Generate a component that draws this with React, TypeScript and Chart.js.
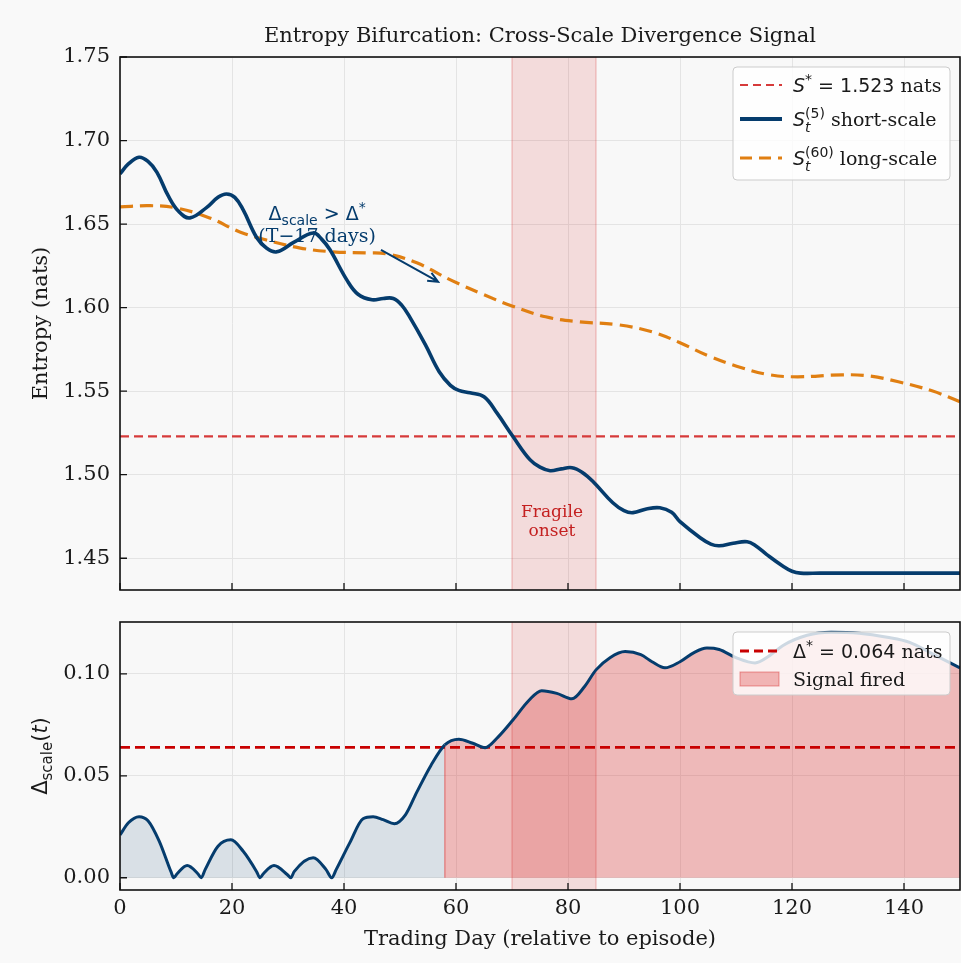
import React, { useEffect, useRef } from "react";
import { Chart, registerables } from "chart.js";

Chart.register(...registerables);

// ---- data ---------------------------------------------------------------

const DAYS_SHORT = [
  0, 1.5, 3.4, 5, 6.6, 8.6, 10.5, 12.5, 15.5, 17.5, 19, 20.5, 22, 24.4, 26.2, 28, 31, 34.5, 36,
  37.5, 40.5, 42.5, 45, 47, 48.8, 50.3, 51.8, 54.5, 57, 59, 60.5, 62.5, 65, 67.3, 70.2, 73.2, 75,
  76.8, 78.8, 80.7, 82.5, 84.5, 88, 90, 91.6, 94, 96.4, 98.5, 100, 103.6, 105.5, 107, 109.5, 112,
  113.5, 115.5, 118.4, 120, 121.5, 125, 132, 141, 150,
];
const S_SHORT = [
  1.68, 1.686, 1.69, 1.6875, 1.681, 1.667, 1.6575, 1.6537, 1.66, 1.666, 1.668, 1.666, 1.6585, 1.642,
  1.6355, 1.6334, 1.639, 1.6447, 1.641, 1.6346, 1.6166, 1.608, 1.6047, 1.6055, 1.6055, 1.6015,
  1.594, 1.578, 1.5616, 1.5535, 1.5505, 1.549, 1.5467, 1.537, 1.5227, 1.509, 1.5045, 1.5024,
  1.5035, 1.5042, 1.5015, 1.4958, 1.4832, 1.4785, 1.4773, 1.4795, 1.4802, 1.4775, 1.4719, 1.4623,
  1.4585, 1.4575, 1.459, 1.4599, 1.4575, 1.4522, 1.4452, 1.4422, 1.4411, 1.4411, 1.4411, 1.4411,
  1.4411,
];

const DAYS_LONG = [
  0, 5.4, 10, 16, 21.4, 26, 32, 38, 44, 47.6, 53, 59, 65, 70, 76, 82, 89, 95, 100, 105, 111, 116,
  121, 129, 134, 139, 145, 150,
];
const S_LONG = [
  1.6603, 1.661, 1.6597, 1.6537, 1.6453, 1.6406, 1.6358, 1.6334, 1.6328, 1.6322, 1.6268, 1.6166,
  1.6077, 1.601, 1.5945, 1.5915, 1.5897, 1.5855, 1.579, 1.5712, 1.564, 1.5598, 1.5586, 1.5598,
  1.559, 1.5556, 1.5502, 1.5437,
];

const DAYS_DELTA = [
  0, 1.5, 3.4, 5, 7, 9.1, 9.6, 10.2, 12, 13.9, 14.5, 15.2, 17.5, 19.8, 22, 24.4, 25, 25.6, 27.5,
  29.9, 30.5, 31.1, 34.5, 36.8, 37.8, 38.6, 41, 43.4, 45.2, 47, 49, 51, 53, 55.5, 58, 60.5, 63,
  65.2, 67.5, 70.2, 73, 75.3, 78, 80.7, 83, 85, 87.5, 90.2, 93, 95, 97.3, 100, 102.5, 104.8, 107,
  110, 113.4, 116, 118.4, 122.7, 127, 132, 137, 141, 145, 150,
];
const DELTA = [
  0.021, 0.027, 0.03, 0.028, 0.018, 0.003, 0, 0.002, 0.006, 0.002, 0, 0.004, 0.0155, 0.0186, 0.013,
  0.003, 0, 0.002, 0.006, 0.0015, 0, 0.003, 0.0098, 0.004, 0, 0.004, 0.017, 0.029, 0.03, 0.0285,
  0.0265, 0.031, 0.042, 0.055, 0.0652, 0.068, 0.066, 0.0638, 0.069, 0.0775, 0.087, 0.0918, 0.0905,
  0.0878, 0.094, 0.102, 0.108, 0.111, 0.1095, 0.106, 0.103, 0.106, 0.1105, 0.1127, 0.112, 0.108,
  0.1054, 0.109, 0.114, 0.119, 0.1205, 0.12, 0.118, 0.1155, 0.11, 0.103,
];

const S_STAR = 1.523;
const DELTA_STAR = 0.064;
const FIRE_DAY = 58;
const FRAGILE_START = 70;
const FRAGILE_END = 85;

const X_TICKS = [0, 20, 40, 60, 80, 100, 120, 140];
const TOP_Y_TICKS = [1.45, 1.5, 1.55, 1.6, 1.65, 1.7, 1.75];
const BOT_Y_TICKS = [0, 0.05, 0.1];

// ---- style --------------------------------------------------------------

const BG = "#f9f9f9";
const PLOT_BG = "#f8f8f8";
const GRID = "#e4e4e4";
const TXT = "#1a1a1a";
const NAVY = "#053c6d";
const ORANGE = "#e07f12";
const RED_REF = "#d63a3a";
const RED_DARK = "#c80000";
const BAND = "rgba(214, 39, 40, 0.14)";
const BAND_EDGE = "rgba(214, 39, 40, 0.22)";
const PRE_FILL = "rgba(5, 60, 109, 0.13)";
const FIRED_FILL = "rgba(214, 39, 40, 0.3)";
const FIRED_EDGE = "rgba(214, 39, 40, 0.45)";
const FRAGILE_TXT = "#c42020";

const SERIF = '"DejaVu Serif", serif';
const SANS = '"DejaVu Sans", sans-serif';
const fs = (size: number, fam: string, style = "") => `${style} ${size}px ${fam}`.trim();

const LABEL_SIZE = 21;
const LEGEND_SIZE = 19;

const pts = (xs: number[], ys: number[]) => xs.map((x, i) => ({ x, y: ys[i] }));
const flat = (v: number) => [
  { x: 0, y: v },
  { x: 150, y: v },
];

// ---- text helpers ---------------------------------------------------------

type Run = { t: string; font: string; dy?: number; keep?: boolean };

function runsWidth(ctx: CanvasRenderingContext2D, runs: Run[]) {
  let w = 0;
  let held = 0;
  for (const r of runs) {
    ctx.font = r.font;
    const m = ctx.measureText(r.t).width;
    if (r.keep) held = Math.max(held, m);
    else {
      w += Math.max(m, held);
      held = 0;
    }
  }
  return w + held;
}

function drawRuns(
  ctx: CanvasRenderingContext2D,
  runs: Run[],
  x: number,
  y: number,
  align: "left" | "center" = "left"
) {
  let cx = align === "center" ? x - runsWidth(ctx, runs) / 2 : x;
  let held = 0;
  ctx.textAlign = "left";
  ctx.textBaseline = "alphabetic";
  for (const r of runs) {
    ctx.font = r.font;
    ctx.fillText(r.t, cx, y + (r.dy ?? 0));
    const m = ctx.measureText(r.t).width;
    if (r.keep) held = Math.max(held, m);
    else {
      cx += Math.max(m, held);
      held = 0;
    }
  }
}

function drawRotated(ctx: CanvasRenderingContext2D, runs: Run[], cx: number, cy: number) {
  ctx.save();
  ctx.translate(cx, cy);
  ctx.rotate(-Math.PI / 2);
  ctx.fillStyle = TXT;
  drawRuns(ctx, runs, 0, 7, "center");
  ctx.restore();
}

function legendBox(ctx: CanvasRenderingContext2D, x: number, y: number, w: number, h: number) {
  ctx.save();
  ctx.beginPath();
  ctx.roundRect(x, y, w, h, 4);
  ctx.fillStyle = "rgba(255,255,255,0.8)";
  ctx.fill();
  ctx.strokeStyle = "#cccccc";
  ctx.lineWidth = 1;
  ctx.stroke();
  ctx.restore();
}

function sampleLine(
  ctx: CanvasRenderingContext2D,
  x0: number,
  x1: number,
  y: number,
  color: string,
  width: number,
  dash: number[]
) {
  ctx.save();
  ctx.strokeStyle = color;
  ctx.lineWidth = width;
  ctx.setLineDash(dash);
  ctx.beginPath();
  ctx.moveTo(x0, y);
  ctx.lineTo(x1, y);
  ctx.stroke();
  ctx.restore();
}

function drawBand(chart: any) {
  const { ctx, chartArea: a, scales } = chart;
  const x0 = scales.x.getPixelForValue(FRAGILE_START);
  const x1 = scales.x.getPixelForValue(FRAGILE_END);
  ctx.save();
  ctx.fillStyle = BAND;
  ctx.fillRect(x0, a.top, x1 - x0, a.bottom - a.top);
  ctx.strokeStyle = BAND_EDGE;
  ctx.lineWidth = 1.5;
  ctx.beginPath();
  ctx.moveTo(x0, a.top);
  ctx.lineTo(x0, a.bottom);
  ctx.moveTo(x1, a.top);
  ctx.lineTo(x1, a.bottom);
  ctx.stroke();
  ctx.restore();
}

function drawFrame(chart: any, yTicks: number[]) {
  const { ctx, chartArea: a, scales } = chart;
  ctx.save();
  ctx.strokeStyle = "#111";
  ctx.lineWidth = 1.3;
  ctx.beginPath();
  for (const v of X_TICKS) {
    const px = scales.x.getPixelForValue(v);
    ctx.moveTo(px, a.bottom);
    ctx.lineTo(px, a.bottom - 7);
  }
  for (const v of yTicks) {
    const py = scales.y.getPixelForValue(v);
    ctx.moveTo(a.left, py);
    ctx.lineTo(a.left + 7, py);
  }
  ctx.stroke();
  ctx.lineWidth = 1.6;
  ctx.strokeRect(a.left, a.top, a.right - a.left, a.bottom - a.top);
  ctx.restore();
}

function paintBackground(chart: any) {
  const { ctx, chartArea: a } = chart;
  ctx.save();
  ctx.fillStyle = BG;
  ctx.fillRect(0, 0, chart.width, chart.height);
  ctx.fillStyle = PLOT_BG;
  ctx.fillRect(a.left, a.top, a.right - a.left, a.bottom - a.top);
  ctx.restore();
}

// ---- plugins ---------------------------------------------------------------

const topDecor = {
  id: "topDecor",
  beforeDraw(chart: any) {
    paintBackground(chart);
  },
  beforeDatasetsDraw(chart: any) {
    drawBand(chart);
  },
  afterDatasetsDraw(chart: any) {
    const { ctx, chartArea: a, scales } = chart;
    const X = (v: number) => scales.x.getPixelForValue(v);
    const Y = (v: number) => scales.y.getPixelForValue(v);

    // band label
    ctx.save();
    ctx.fillStyle = FRAGILE_TXT;
    ctx.font = fs(17, SERIF);
    ctx.textAlign = "center";
    ctx.textBaseline = "middle";
    const bx = X((FRAGILE_START + FRAGILE_END) / 2) - 2;
    ctx.fillText("Fragile", bx, Y(1.4773));
    ctx.fillText("onset", bx, Y(1.4773) + 19);
    ctx.restore();

    // early-warning annotation
    ctx.save();
    ctx.fillStyle = NAVY;
    const tx = X(35.2);
    drawRuns(
      ctx,
      [
        { t: "Δ", font: fs(LEGEND_SIZE, SANS) },
        { t: "scale", font: fs(14, SANS), dy: 5 },
        { t: " > ", font: fs(LEGEND_SIZE, SANS) },
        { t: "Δ", font: fs(LEGEND_SIZE, SANS) },
        { t: "*", font: fs(14, SANS), dy: -8 },
      ],
      tx,
      Y(1.6561) + 6,
      "center"
    );
    ctx.font = fs(LEGEND_SIZE, SERIF);
    ctx.textAlign = "center";
    ctx.textBaseline = "middle";
    ctx.fillText("(T\u221217 days)", tx, Y(1.6423));
    const x0 = X(46.6);
    const y0 = Y(1.6346);
    const x1 = X(56.8);
    const y1 = Y(1.6155);
    ctx.strokeStyle = NAVY;
    ctx.lineWidth = 2;
    ctx.beginPath();
    ctx.moveTo(x0, y0);
    ctx.lineTo(x1, y1);
    const ang = Math.atan2(y1 - y0, x1 - x0);
    const hl = 11;
    ctx.moveTo(x1 - hl * Math.cos(ang - 0.42), y1 - hl * Math.sin(ang - 0.42));
    ctx.lineTo(x1, y1);
    ctx.lineTo(x1 - hl * Math.cos(ang + 0.42), y1 - hl * Math.sin(ang + 0.42));
    ctx.stroke();
    ctx.restore();

    // legend
    const w = 217;
    const h = 113;
    const lx = a.right - 10 - w;
    const ly = a.top + 10;
    legendBox(ctx, lx, ly, w, h);
    const sx0 = lx + 7;
    const sx1 = lx + 49;
    const tx0 = lx + 60;
    const r1 = ly + 18;
    const r2 = ly + 52;
    const r3 = ly + 91;
    sampleLine(ctx, sx0, sx1, r1, RED_REF, 2.2, [8, 5]);
    sampleLine(ctx, sx0, sx1, r2, NAVY, 4, []);
    sampleLine(ctx, sx0, sx1, r3, ORANGE, 3.2, [12, 7]);
    ctx.save();
    ctx.fillStyle = TXT;
    drawRuns(
      ctx,
      [
        { t: "S", font: fs(LEGEND_SIZE, SANS, "italic") },
        { t: "*", font: fs(14, SANS), dy: -8 },
        { t: " = 1.523", font: fs(LEGEND_SIZE, SANS) },
        { t: " nats", font: fs(LEGEND_SIZE, SERIF) },
      ],
      tx0,
      r1 + 7
    );
    drawRuns(
      ctx,
      [
        { t: "S", font: fs(LEGEND_SIZE, SANS, "italic") },
        { t: "t", font: fs(14, SANS, "italic"), dy: 6, keep: true },
        { t: "(5)", font: fs(14, SANS), dy: -8 },
        { t: " short-scale", font: fs(LEGEND_SIZE, SERIF) },
      ],
      tx0,
      r2 + 7
    );
    drawRuns(
      ctx,
      [
        { t: "S", font: fs(LEGEND_SIZE, SANS, "italic") },
        { t: "t", font: fs(14, SANS, "italic"), dy: 6, keep: true },
        { t: "(60)", font: fs(14, SANS), dy: -8 },
        { t: " long-scale", font: fs(LEGEND_SIZE, SERIF) },
      ],
      tx0,
      r3 + 7
    );
    ctx.restore();
  },
  afterDraw(chart: any) {
    const { ctx, chartArea: a } = chart;
    drawFrame(chart, TOP_Y_TICKS);
    ctx.save();
    ctx.fillStyle = TXT;
    ctx.font = fs(LABEL_SIZE, SERIF);
    ctx.textAlign = "center";
    ctx.textBaseline = "middle";
    ctx.fillText("Entropy Bifurcation: Cross-Scale Divergence Signal", (a.left + a.right) / 2, 37);
    ctx.restore();
    drawRotated(
      ctx,
      [{ t: "Entropy (nats)", font: fs(LABEL_SIZE, SERIF) }],
      40,
      (a.top + a.bottom) / 2
    );
  },
};

const bottomDecor = {
  id: "bottomDecor",
  beforeDraw(chart: any) {
    paintBackground(chart);
  },
  beforeDatasetsDraw(chart: any) {
    const { ctx, scales } = chart;
    // left edge of the fired region
    const i = DAYS_DELTA.indexOf(FIRE_DAY);
    const px = scales.x.getPixelForValue(FIRE_DAY);
    ctx.save();
    ctx.strokeStyle = FIRED_EDGE;
    ctx.lineWidth = 1.5;
    ctx.beginPath();
    ctx.moveTo(px, scales.y.getPixelForValue(0));
    ctx.lineTo(px, scales.y.getPixelForValue(DELTA[i]));
    ctx.stroke();
    ctx.restore();
    drawBand(chart);
  },
  afterDatasetsDraw(chart: any) {
    const { ctx, chartArea: a } = chart;
    const w = 217;
    const h = 63;
    const lx = a.right - 10 - w;
    const ly = a.top + 10;
    legendBox(ctx, lx, ly, w, h);
    const r1 = ly + 19;
    const r2 = ly + 47;
    sampleLine(ctx, lx + 7, lx + 49, r1, RED_DARK, 3, [9, 5]);
    ctx.save();
    ctx.fillStyle = FIRED_FILL;
    ctx.fillRect(lx + 7, r2 - 7, 39, 14);
    ctx.strokeStyle = FIRED_EDGE;
    ctx.lineWidth = 1;
    ctx.strokeRect(lx + 7, r2 - 7, 39, 14);
    ctx.fillStyle = TXT;
    drawRuns(
      ctx,
      [
        { t: "Δ", font: fs(LEGEND_SIZE, SANS) },
        { t: "*", font: fs(14, SANS), dy: -8 },
        { t: " = 0.064", font: fs(LEGEND_SIZE, SANS) },
        { t: " nats", font: fs(LEGEND_SIZE, SERIF) },
      ],
      lx + 60,
      r1 + 7
    );
    drawRuns(ctx, [{ t: "Signal fired", font: fs(LEGEND_SIZE, SERIF) }], lx + 60, r2 + 7);
    ctx.restore();
  },
  afterDraw(chart: any) {
    const { ctx, chartArea: a } = chart;
    drawFrame(chart, BOT_Y_TICKS);
    ctx.save();
    ctx.fillStyle = TXT;
    ctx.font = fs(LABEL_SIZE, SERIF);
    ctx.textAlign = "center";
    ctx.textBaseline = "middle";
    ctx.fillText("Trading Day (relative to episode)", (a.left + a.right) / 2, 340);
    ctx.restore();
    drawRotated(
      ctx,
      [
        { t: "Δ", font: fs(LABEL_SIZE, SANS) },
        { t: "scale", font: fs(15, SANS), dy: 5 },
        { t: "(", font: fs(LABEL_SIZE, SANS) },
        { t: "t", font: fs(LABEL_SIZE, SANS, "italic") },
        { t: ")", font: fs(LABEL_SIZE, SANS) },
      ],
      40,
      (a.top + a.bottom) / 2
    );
  },
};

// ---- scales ---------------------------------------------------------------

const tickFont = { family: "DejaVu Serif", size: LABEL_SIZE };

function xScale(showLabels: boolean, height: number) {
  return {
    type: "linear",
    min: 0,
    max: 150,
    afterBuildTicks: (s: any) => {
      s.ticks = X_TICKS.map((value) => ({ value }));
    },
    afterFit: (s: any) => {
      s.height = height;
      s.paddingLeft = 0;
      s.paddingRight = 0;
    },
    grid: { color: GRID, lineWidth: 1, drawTicks: false },
    border: { display: false },
    ticks: {
      display: showLabels,
      padding: 6,
      color: TXT,
      font: tickFont,
      maxRotation: 0,
      autoSkip: false,
      callback: (v: any) => String(v),
    },
  };
}

function yScale(min: number, max: number, ticks: number[]) {
  return {
    type: "linear",
    min,
    max,
    afterBuildTicks: (s: any) => {
      s.ticks = ticks.map((value) => ({ value }));
    },
    afterFit: (s: any) => {
      s.width = 120;
      s.paddingTop = 0;
      s.paddingBottom = 0;
    },
    grid: { color: GRID, lineWidth: 1, drawTicks: false },
    border: { display: false },
    ticks: {
      padding: 10,
      color: TXT,
      font: tickFont,
      callback: (v: any) => Number(v).toFixed(2),
    },
  };
}

const common = {
  responsive: false,
  animation: false,
  devicePixelRatio: 1,
  events: [],
  plugins: {
    legend: { display: false },
    tooltip: { enabled: false },
    filler: { drawTime: "beforeDatasetsDraw" },
  },
};

function topConfig(): any {
  return {
    type: "line",
    data: {
      datasets: [
        {
          data: pts(DAYS_SHORT, S_SHORT),
          borderColor: NAVY,
          borderWidth: 3.6,
          pointRadius: 0,
          tension: 0.4,
          order: 1,
        },
        {
          data: pts(DAYS_LONG, S_LONG),
          borderColor: ORANGE,
          borderWidth: 3.2,
          borderDash: [13, 7],
          pointRadius: 0,
          tension: 0.4,
          order: 2,
        },
        {
          data: flat(S_STAR),
          borderColor: RED_REF,
          borderWidth: 2.2,
          borderDash: [9, 5],
          pointRadius: 0,
          order: 3,
        },
      ],
    },
    options: {
      ...common,
      layout: { padding: { top: 57, right: 1, left: 0, bottom: 0 } },
      scales: {
        x: xScale(false, 10),
        y: yScale(1.431, 1.75, TOP_Y_TICKS),
      },
    },
    plugins: [topDecor],
  };
}

function bottomConfig(): any {
  return {
    type: "line",
    data: {
      datasets: [
        {
          data: pts(DAYS_DELTA, DELTA),
          borderColor: NAVY,
          borderWidth: 3,
          pointRadius: 0,
          cubicInterpolationMode: "monotone",
          fill: "origin",
          backgroundColor: PRE_FILL,
          segment: {
            backgroundColor: (c: any) => (c.p0.parsed.x >= FIRE_DAY ? FIRED_FILL : PRE_FILL),
          },
          order: 1,
        },
        {
          data: flat(DELTA_STAR),
          borderColor: RED_DARK,
          borderWidth: 2.6,
          borderDash: [10, 5],
          pointRadius: 0,
          order: 2,
        },
      ],
    },
    options: {
      ...common,
      layout: { padding: { top: 22, right: 1, left: 0, bottom: 0 } },
      scales: {
        x: xScale(true, 73),
        y: yScale(-0.006, 0.1255, BOT_Y_TICKS),
      },
    },
    plugins: [bottomDecor],
  };
}

export default function App() {
  const topRef = useRef<HTMLCanvasElement>(null);
  const botRef = useRef<HTMLCanvasElement>(null);

  useEffect(() => {
    const top = new Chart(topRef.current!, topConfig());
    const bottom = new Chart(botRef.current!, bottomConfig());
    return () => {
      top.destroy();
      bottom.destroy();
    };
  }, []);

  return (
    <div
      style={{ position: "absolute", left: 0, top: 0, width: 961, height: 963, background: BG }}
    >
      <canvas
        ref={topRef}
        width={961}
        height={600}
        style={{ position: "absolute", left: 0, top: 0, width: 961, height: 600 }}
      />
      <canvas
        ref={botRef}
        width={961}
        height={363}
        style={{ position: "absolute", left: 0, top: 600, width: 961, height: 363 }}
      />
    </div>
  );
}
